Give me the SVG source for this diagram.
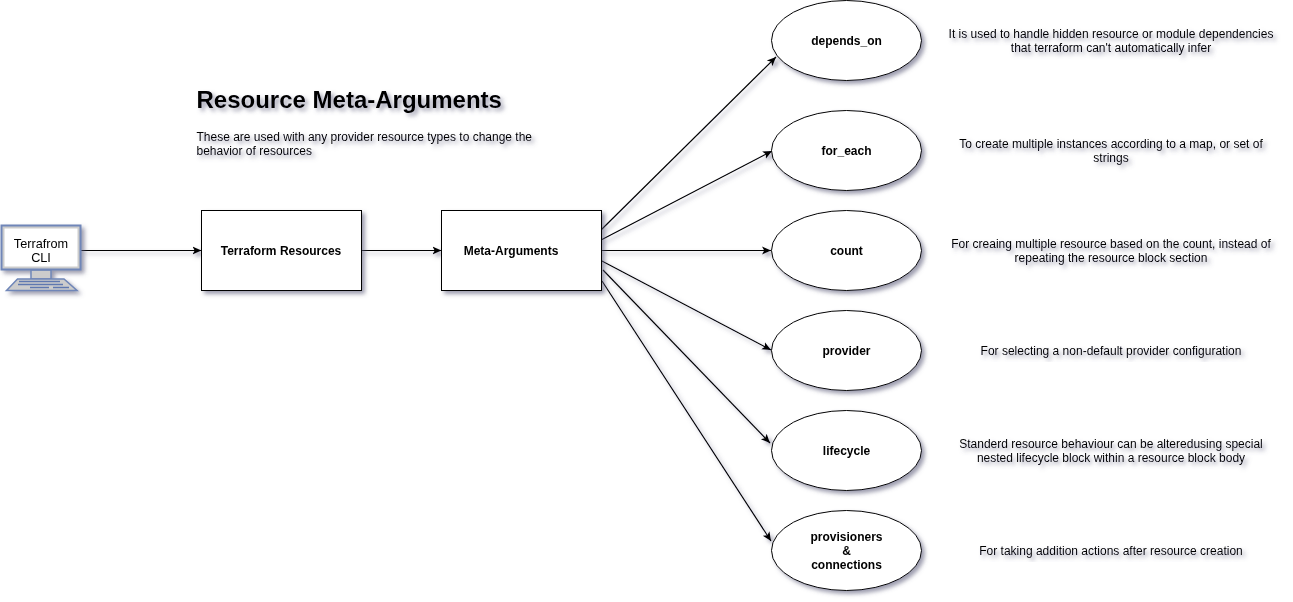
<svg xmlns="http://www.w3.org/2000/svg" width="1293" height="602" viewBox="0 0 1293 602">
<style>
text{font-family:"Liberation Sans",Arial,sans-serif;font-size:12px;fill:#000;text-anchor:middle}
.b{font-weight:bold}
.n{fill:#fff;stroke:#000;stroke-width:1}
.c{fill:none;stroke:#000;stroke-width:1.200;marker-end:url(#a)}
.l{text-anchor:start}
</style>
<defs>
<marker id="a" markerUnits="userSpaceOnUse" markerWidth="12" markerHeight="12" refX="9" refY="5" orient="auto"><path d="M0 1L9 5L0 9L2.200 5Z" fill="#000"/></marker>
<filter id="s" x="-20%" y="-20%" width="150%" height="150%"><feDropShadow dx="3" dy="3" stdDeviation="2" flood-color="#5a5a78" flood-opacity="0.6"/></filter>
</defs>
<g id="connectors" filter="url(#s)">
<path class="c" d="M81 250.500H201.500"/>
<path class="c" d="M361.500 250.500H441.500"/>
<path class="c" d="M601 230L776 57"/>
<path class="c" d="M601 240L772 151"/>
<path class="c" d="M601 250.500H771"/>
<path class="c" d="M600 260L771 350"/>
<path class="c" d="M603 270L770 443"/>
<path class="c" d="M602 281L771 541"/>
</g>
<g id="cli" filter="url(#s)">
<rect x="31" y="270" width="20" height="9" fill="#ccc" stroke="#6f86b8" stroke-width="1.500"/>
<path d="M17.500 279H64L77 290.500H6.500Z" fill="#ccc" stroke="#6f86b8" stroke-width="1.500"/>
<path d="M19 281.500H60M18 284.500H63M30 287.500H49M53 287.500H69" stroke="#5f78b0" stroke-width="1.500" fill="none"/>
<rect x="1.500" y="225.500" width="79" height="44" fill="#ccc" stroke="#6f86b8" stroke-width="2"/>
<rect x="4.500" y="228.500" width="73" height="38" fill="#fff"/>
<text x="41" y="247.500" style="font-size:12.700px">Terrafrom</text><text x="41" y="261.500" style="font-size:12.700px">CLI</text>
</g>
<g id="title" filter="url(#s)">
<text class="b l" x="196.500" y="107.500" style="font-size:24px">Resource Meta-Arguments</text>
<text class="l" x="196.500" y="140.500">These are used with any provider resource types to change the</text>
<text class="l" x="196.500" y="154.500">behavior of resources</text>
</g>
<g id="terraform-resources" filter="url(#s)"><rect class="n" x="201.500" y="210.500" width="160" height="80"/><text class="b" x="281" y="254.500">Terraform Resources</text></g>
<g id="meta-arguments" filter="url(#s)"><rect class="n" x="441.500" y="210.500" width="160" height="80"/><text class="b" x="511" y="254.500">Meta-Arguments</text></g>
<g id="depends-on" filter="url(#s)"><ellipse class="n" cx="846.500" cy="40.500" rx="75" ry="40"/><text class="b" x="846.500" y="44.500">depends_on</text></g>
<g id="for-each" filter="url(#s)"><ellipse class="n" cx="846.500" cy="150.500" rx="75" ry="40"/><text class="b" x="846.500" y="154.500">for_each</text></g>
<g id="count" filter="url(#s)"><ellipse class="n" cx="846.500" cy="250.500" rx="75" ry="40"/><text class="b" x="846.500" y="254.500">count</text></g>
<g id="provider" filter="url(#s)"><ellipse class="n" cx="846.500" cy="350.500" rx="75" ry="40"/><text class="b" x="846.500" y="354.500">provider</text></g>
<g id="lifecycle" filter="url(#s)"><ellipse class="n" cx="846.500" cy="450.500" rx="75" ry="40"/><text class="b" x="846.500" y="454.500">lifecycle</text></g>
<g id="provisioners" filter="url(#s)"><ellipse class="n" cx="846.500" cy="550.500" rx="75" ry="40"/><text class="b" x="846.500" y="540.500">provisioners</text><text class="b" x="846.500" y="554.500">&amp;</text><text class="b" x="846.500" y="568.500">connections</text></g>
<g id="desc-depends-on" filter="url(#s)"><text x="1111" y="37.500">It is used to handle hidden resource or module dependencies</text><text x="1111" y="51.500">that terraform can't automatically infer</text></g>
<g id="desc-for-each" filter="url(#s)"><text x="1111" y="147.500">To create multiple instances according to a map, or set of</text><text x="1111" y="161.500">strings</text></g>
<g id="desc-count" filter="url(#s)"><text x="1111" y="247.500">For creaing multiple resource based on the count, instead of</text><text x="1111" y="261.500">repeating the resource block section</text></g>
<g id="desc-provider" filter="url(#s)"><text x="1111" y="354.500">For selecting a non-default provider configuration</text></g>
<g id="desc-lifecycle" filter="url(#s)"><text x="1111" y="447.500">Standerd resource behaviour can be alteredusing special</text><text x="1111" y="461.500">nested lifecycle block within a resource block body</text></g>
<g id="desc-provisioners" filter="url(#s)"><text x="1111" y="554.500">For taking addition actions after resource creation</text></g>
</svg>
